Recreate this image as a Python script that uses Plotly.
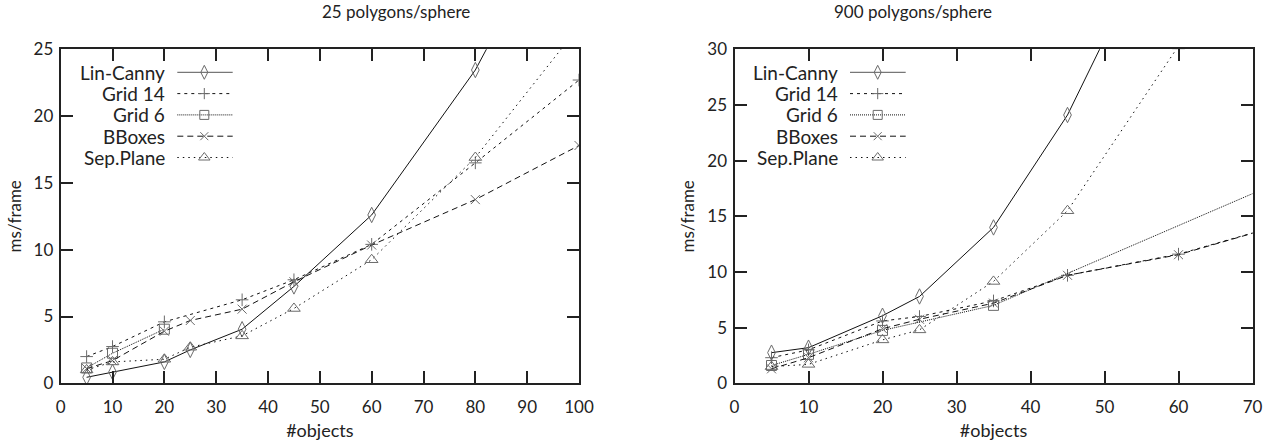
import plotly.graph_objects as go

# ---------------- data ----------------
series_names = ["Lin-Canny", "Grid 14", "Grid 6", "BBoxes", "Sep.Plane"]

# 25 polygons/sphere (left)
l_lin_x = [5, 10, 20, 25, 35, 45, 60, 80, 100]
l_lin_y = [0.45, 0.85, 1.6, 2.5, 4.05, 7.25, 12.6, 23.45, 38.0]
l_g14_x = [5, 10, 20, 35, 45, 60, 80, 100]
l_g14_y = [2.0, 2.75, 4.6, 6.25, 7.75, 10.4, 16.5, 22.7]
l_g6_x = [5, 10, 20]
l_g6_y = [1.15, 2.25, 4.05]
l_bb_x = [5, 10, 20, 25, 35, 45, 60, 80, 100]
l_bb_y = [1.1, 1.7, 3.9, 4.7, 5.55, 7.6, 10.35, 13.75, 17.8]
l_sp_x = [5, 10, 20, 25, 35, 45, 60, 80, 100]
l_sp_y = [1.0, 1.6, 1.8, 2.7, 3.55, 5.6, 9.25, 16.9, 26.7]

# 900 polygons/sphere (right)
r_lin_x = [5, 10, 20, 25, 35, 45, 60]
r_lin_y = [2.75, 3.2, 6.07, 7.8, 14.0, 24.1, 44.5]
r_g14_x = [5, 10, 20, 25, 35, 45, 60, 80]
r_g14_y = [2.3, 3.0, 5.6, 6.0, 7.4, 9.7, 11.6, 15.4]
r_g6_x = [5, 10, 20, 35, 80]
r_g6_y = [1.6, 2.6, 4.75, 7.0, 19.9]
r_bb_x = [5, 10, 20, 25, 35, 45, 60, 80]
r_bb_y = [1.3, 2.3, 4.9, 5.75, 7.2, 9.7, 11.55, 15.4]
r_sp_x = [5, 10, 20, 25, 35, 45, 60]
r_sp_y = [1.5, 1.7, 3.9, 4.8, 9.15, 15.5, 30.3]

left_x_ticks = list(range(0, 101, 10))
left_y_ticks = list(range(0, 26, 5))
right_x_ticks = list(range(0, 71, 10))
right_y_ticks = list(range(0, 31, 5))

# ---------------- styles ----------------
dashes = ["solid", "3px,4px", "1px,1px", "6px,4px", "1.5px,4px"]
symbols = ["diamond-tall-open", "cross-thin-open", "square-open", "x-thin-open", "triangle-up-open"]
sizes = [11, 9, 10, 9, 11]
LINE_C = "#111111"
MARK_C = "#6a6a6a"
FONT = "Lato"
TXT_C = "#222222"

W, H = 1272, 444
L_DOM = [60.7 / W, 579 / W]
R_DOM = [734.5 / W, 1252.5 / W]
Y_DOM = [1 - 383.3 / H, 1 - 49.3 / H]

fig = go.Figure()

left_sets = [(l_lin_x, l_lin_y), (l_g14_x, l_g14_y), (l_g6_x, l_g6_y), (l_bb_x, l_bb_y), (l_sp_x, l_sp_y)]
right_sets = [(r_lin_x, r_lin_y), (r_g14_x, r_g14_y), (r_g6_x, r_g6_y), (r_bb_x, r_bb_y), (r_sp_x, r_sp_y)]

for sets, xa, ya in [(left_sets, "x", "y"), (right_sets, "x2", "y2")]:
    for i, (xs, ys) in enumerate(sets):
        fig.add_trace(go.Scatter(
            x=xs, y=ys, xaxis=xa, yaxis=ya, mode="lines+markers",
            line=dict(color=LINE_C, width=1, dash=dashes[i]),
            marker=dict(symbol=symbols[i], size=sizes[i], color=MARK_C,
                        line=dict(color=MARK_C, width=1)),
            cliponaxis=True, showlegend=False, name=series_names[i]))

# legend samples on hidden pixel-space axes
leg_rows = [72.3, 93.6, 114.9, 136.2, 157.5]
for (x0, x1, xm) in [(177.3, 232.7, 204.3), (850, 905.7, 877.7)]:
    for i, yy in enumerate(leg_rows):
        fig.add_trace(go.Scatter(
            x=[x0, x1], y=[yy, yy], xaxis="x3", yaxis="y3", mode="lines",
            line=dict(color=LINE_C if i else "#555555", width=1, dash=dashes[i]),
            showlegend=False, hoverinfo="skip"))
        fig.add_trace(go.Scatter(
            x=[xm], y=[yy], xaxis="x3", yaxis="y3", mode="markers",
            marker=dict(symbol=symbols[i], size=sizes[i] - 1, color=MARK_C,
                        line=dict(color=MARK_C, width=1)),
            showlegend=False, hoverinfo="skip"))

annotations = []
for tx in [166, 839]:
    for i, yy in enumerate(leg_rows):
        annotations.append(dict(x=tx, y=yy, xref="x3", yref="y3", text=series_names[i],
                                showarrow=False, xanchor="right", yanchor="middle", borderpad=0,
                                font=dict(family=FONT, size=19, color=TXT_C)))

# titles
for dom, txt in [(L_DOM, "25 polygons/sphere"), (R_DOM, "900 polygons/sphere")]:
    annotations.append(dict(x=(dom[0] + dom[1]) / 2, y=1 - 12 / H, xref="paper", yref="paper",
                            text=txt, showarrow=False, yanchor="middle",
                            font=dict(family=FONT, size=17, color=TXT_C)))

axis_common = dict(showline=True, linewidth=2, linecolor=TXT_C, mirror="ticks",
                   ticks="inside", ticklen=12, tickwidth=2, tickcolor=TXT_C,
                   showgrid=False, zeroline=False, automargin=False,
                   tickfont=dict(family=FONT, size=17, color=TXT_C))

xt = dict(text="#objects", font=dict(family=FONT, size=18, color=TXT_C), standoff=9)
yt = dict(text="ms/frame", font=dict(family=FONT, size=17, color=TXT_C), standoff=8)

fig.update_layout(
    width=W, height=H, margin=dict(l=0, r=0, t=0, b=0, autoexpand=False),
    paper_bgcolor="white", plot_bgcolor="rgba(0,0,0,0)",
    xaxis=dict(domain=L_DOM, range=[0, 100], tickvals=left_x_ticks, anchor="y", title=xt,
               ticklabelstandoff=7, **axis_common),
    yaxis=dict(domain=Y_DOM, range=[0, 25], tickvals=left_y_ticks, anchor="x", title=yt,
               ticklabelstandoff=2, **axis_common),
    xaxis2=dict(domain=R_DOM, range=[0, 70], tickvals=right_x_ticks, anchor="y2", title=xt,
                ticklabelstandoff=7, **axis_common),
    yaxis2=dict(domain=Y_DOM, range=[0, 30], tickvals=right_y_ticks, anchor="x2", title=yt,
                ticklabelstandoff=2, **axis_common),
    xaxis3=dict(domain=[0, 1], range=[0, W], visible=False, anchor="y3", fixedrange=True),
    yaxis3=dict(domain=[0, 1], range=[H, 0], visible=False, anchor="x3", fixedrange=True),
    annotations=annotations,
    showlegend=False,
)

fig.write_html("out.html", config={"displayModeBar": False},
               post_script="document.body.style.margin='0px';")
